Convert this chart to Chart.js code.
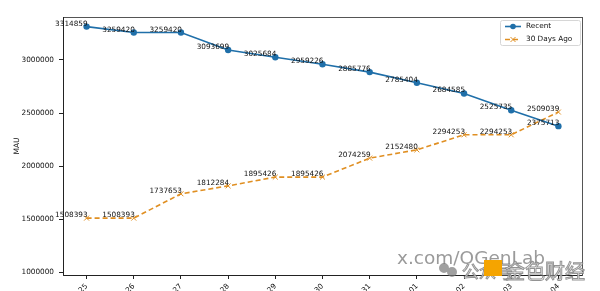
<!DOCTYPE html>
<html>
<head>
<meta charset="utf-8">
<script src="https://cdn.jsdelivr.net/npm/chart.js@4.4.1/dist/chart.umd.min.js"></script>
<style>
  html, body { margin: 0; padding: 0; background: #fff; overflow: hidden; }
  #wrap { position: relative; width: 600px; height: 291px; }
</style>
</head>
<body>
<div id="wrap"><canvas id="grafico"></canvas></div>
<script>
// MAU reciente vs. hace 30 días
var fechas = ['25', '26', '27', '28', '29', '30', '31', '01', '02', '03', '04'];
var recientes = [3314859, 3259420, 3259420, 3093699, 3025684, 2959226, 2885776, 2785404, 2684585, 2525735, 2375713];
var hace30 = [1508393, 1508393, 1737653, 1812284, 1895426, 1895426, 2074259, 2152480, 2294253, 2294253, 2509039];
var ticksY = [1000000, 1500000, 2000000, 2500000, 3000000];
var nombres = ['Recent', '30 Days Ago'];

var AZUL = '#1f6fa9';
var NARANJA = '#e08f22';
var FUENTE = '"DejaVu Sans", sans-serif';

var etiquetas = {
  id: 'etiquetas',
  afterDatasetsDraw: function (chart) {
    var ctx = chart.ctx;
    ctx.save();
    ctx.font = '7.3px ' + FUENTE;
    ctx.fillStyle = '#111';
    ctx.textAlign = 'right';
    ctx.textBaseline = 'alphabetic';
    chart.data.datasets.forEach(function (ds, i) {
      chart.getDatasetMeta(i).data.forEach(function (pt, j) {
        ctx.fillText(String(ds.data[j]), pt.x + 1, pt.y - 1);
      });
    });
    ctx.restore();
  }
};

var marco = {
  id: 'marco',
  beforeDatasetsDraw: function (chart) {
    var a = chart.chartArea, ctx = chart.ctx;
    ctx.save();
    ctx.strokeStyle = '#555';
    ctx.lineWidth = 1;
    ctx.strokeRect(a.left + 0.5, a.top + 0.5, a.right - a.left, a.bottom - a.top);
    ctx.strokeStyle = '#222';
    ctx.beginPath();
    ctx.moveTo(a.left + 0.5, a.top);
    ctx.lineTo(a.left + 0.5, a.bottom + 0.5);
    ctx.lineTo(a.right, a.bottom + 0.5);
    ctx.stroke();
    ctx.restore();
  }
};

var leyenda = {
  id: 'leyenda',
  afterDraw: function (chart) {
    var ctx = chart.ctx, a = chart.chartArea;
    var x0 = a.right - 82, y0 = a.top + 3;
    ctx.save();
    ctx.fillStyle = 'rgba(255,255,255,0.85)';
    ctx.strokeStyle = '#d6d6d6';
    ctx.lineWidth = 1;
    ctx.beginPath();
    ctx.roundRect(x0 + 0.5, y0 + 0.5, 80, 25, 2);
    ctx.fill();
    ctx.stroke();
    ctx.font = '7.3px ' + FUENTE;
    ctx.textBaseline = 'middle';
    chart.data.datasets.forEach(function (ds, i) {
      var y = y0 + 6.5 + i * 13;
      ctx.strokeStyle = ds.borderColor;
      ctx.lineWidth = 1.6;
      ctx.setLineDash(ds.borderDash || []);
      ctx.beginPath();
      ctx.moveTo(x0 + 5, y);
      ctx.lineTo(x0 + 21, y);
      ctx.stroke();
      ctx.setLineDash([]);
      ctx.beginPath();
      if (i === 0) {
        ctx.fillStyle = ds.backgroundColor;
        ctx.arc(x0 + 13, y, 2.8, 0, Math.PI * 2);
        ctx.fill();
      } else {
        ctx.lineWidth = 1;
        ctx.moveTo(x0 + 10.5, y - 2.5); ctx.lineTo(x0 + 15.5, y + 2.5);
        ctx.moveTo(x0 + 10.5, y + 2.5); ctx.lineTo(x0 + 15.5, y - 2.5);
        ctx.stroke();
      }
      ctx.fillStyle = '#111';
      ctx.textAlign = 'left';
      ctx.fillText(ds.label, x0 + 26, y);
    });
    ctx.restore();
  }
};

var marcaAgua = {
  id: 'marcaAgua',
  afterDraw: function (chart) {
    var ctx = chart.ctx;
    ctx.save();
    ctx.font = '18.5px ' + FUENTE;
    ctx.fillStyle = 'rgba(120,120,120,0.75)';
    ctx.textAlign = 'left';
    ctx.textBaseline = 'alphabetic';
    ctx.fillText('x.com/OGenLab', 397, 264);
    ctx.fillStyle = 'rgba(120,120,120,0.7)';
    ctx.beginPath();
    ctx.arc(444, 268, 5, 0, Math.PI * 2);
    ctx.arc(452, 272, 5, 0, Math.PI * 2);
    ctx.fill();
    ctx.font = '17px "Noto Sans CJK SC", sans-serif';
    ctx.lineWidth = 1;
    ctx.strokeStyle = 'rgba(120,120,120,0.8)';
    ctx.fillStyle = 'rgba(255,255,255,0.9)';
    ctx.fillText('公众号', 462, 278);
    ctx.strokeText('公众号', 462, 278);
    ctx.fillStyle = '#f5a400';
    ctx.fillRect(484, 260, 18, 16);
    ctx.font = '20px "Noto Sans CJK SC", sans-serif';
    ctx.fillStyle = 'rgba(255,255,255,0.9)';
    ctx.fillText('金色财经', 505, 279);
    ctx.strokeText('金色财经', 505, 279);
    ctx.restore();
  }
};

new Chart(document.getElementById('grafico'), {
  type: 'line',
  data: {
    labels: fechas,
    datasets: [
      {
        label: nombres[0],
        data: recientes,
        borderColor: AZUL,
        backgroundColor: AZUL,
        borderWidth: 1.6,
        pointStyle: 'circle',
        pointRadius: 3.2,
        pointBorderWidth: 0,
        tension: 0
      },
      {
        label: nombres[1],
        data: hace30,
        borderColor: NARANJA,
        backgroundColor: NARANJA,
        borderWidth: 1.6,
        borderDash: [5, 3],
        pointStyle: 'crossRot',
        pointRadius: 3.5,
        pointBorderWidth: 1,
        tension: 0
      }
    ]
  },
  options: {
    responsive: true,
    maintainAspectRatio: false,
    animation: false,
    layout: { padding: { top: 17, right: 18, left: 0, bottom: 0 } },
    plugins: { legend: { display: false }, tooltip: { enabled: false } },
    scales: {
      x: {
        offset: true,
        border: { display: false },
        grid: { drawOnChartArea: false, drawTicks: true, tickLength: 4, color: '#222', offset: false },
        ticks: { color: '#111', font: { family: FUENTE, size: 7.3 }, minRotation: 45, maxRotation: 45, padding: 3 },
        afterFit: function (s) { s.height = 16; }
      },
      y: {
        min: 971700,
        max: 3405660,
        border: { display: false },
        grid: { drawOnChartArea: false, drawTicks: true, tickLength: 4, color: '#222' },
        ticks: {
          color: '#111',
          font: { family: FUENTE, size: 7.3 },
          padding: 5,
          callback: function (v) { return String(v); }
        },
        afterBuildTicks: function (s) { s.ticks = ticksY.map(function (v) { return { value: v }; }); },
        title: { display: true, text: 'MAU', color: '#111', font: { family: FUENTE, size: 7.5 }, padding: { top: 13, bottom: 0 } },
        afterFit: function (s) { s.width = 63; }
      }
    }
  },
  plugins: [marco, etiquetas, leyenda, marcaAgua]
});
</script>
</body>
</html>
